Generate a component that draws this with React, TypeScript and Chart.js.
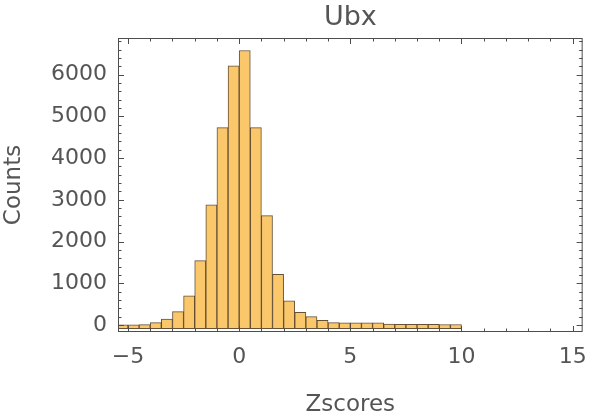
import React, { useEffect, useRef } from "react";
import { Chart, registerables } from "chart.js";

Chart.register(...registerables);

// Histogram bins (left edges) and counts, bin width 0.5
const binStarts = [
  -5.5, -5, -4.5, -4, -3.5, -3, -2.5, -2, -1.5, -1, -0.5, 0, 0.5, 1, 1.5, 2,
  2.5, 3, 3.5, 4, 4.5, 5, 5.5, 6, 6.5, 7, 7.5, 8, 8.5, 9, 9.5,
];
const counts = [
  4, 3, 8, 55, 140, 320, 700, 1540, 2880, 4730, 6210, 6580, 4730, 2620, 1215,
  575, 300, 200, 110, 55, 50, 50, 50, 50, 18, 15, 15, 12, 12, 10, 10,
];
const binWidth = 0.5;

const xTickValues = [-5, 0, 5, 10, 15];
const yTickValues = [0, 1000, 2000, 3000, 4000, 5000, 6000];
const xRange = [-5.45, 15.45];
const yRange = [-170, 6880];

const titleText = "Ubx";
const xTitleText = "Zscores";
const yTitleText = "Counts";

const FONT = "'DejaVu Sans', sans-serif";
const TEXT = "#555555";
const FRAME = "#4d4d4d";

const framePlugin = {
  id: "mmaFrame",
  afterDatasetsDraw(chart: any) {
    const { ctx, chartArea, scales } = chart;
    const { left, right, top, bottom } = chartArea;
    const xs = scales.x;
    const ys = scales.y;
    ctx.save();
    ctx.strokeStyle = FRAME;
    ctx.lineWidth = 1;
    ctx.strokeRect(left + 0.5, top + 0.5, right - left - 1, bottom - top - 1);
    const line = (x1: number, y1: number, x2: number, y2: number) => {
      ctx.beginPath();
      ctx.moveTo(x1, y1);
      ctx.lineTo(x2, y2);
      ctx.stroke();
    };
    // x ticks every 1, major every 5
    for (let v = Math.ceil(xs.min); v <= Math.floor(xs.max); v++) {
      const major = v % 5 === 0;
      const len = major ? 6 : 3.5;
      const px = Math.round(xs.getPixelForValue(v)) + 0.5;
      line(px, bottom, px, bottom - len);
      line(px, top, px, top + len);
    }
    // y ticks every 200, major every 1000
    for (let v = 0; v <= ys.max; v += 200) {
      const major = v % 1000 === 0;
      const len = major ? 6 : 3.5;
      const py = Math.round(ys.getPixelForValue(v)) + 0.5;
      line(left, py, left + len, py);
      line(right, py, right - len, py);
    }
    ctx.restore();
  },
};

export default function App() {
  const canvasRef = useRef<HTMLCanvasElement | null>(null);

  useEffect(() => {
    const canvas = canvasRef.current;
    if (!canvas) return;
    const data = binStarts.map((s, i) => ({ x: s + binWidth / 2, y: counts[i] }));
    const chart = new Chart(canvas, {
      type: "bar",
      data: {
        datasets: [
          {
            data: data as any,
            base: -90,
            backgroundColor: "rgb(250, 199, 106)",
            borderColor: "rgba(85, 62, 32, 0.9)",
            borderWidth: 1,
            borderSkipped: false,
            barPercentage: 1,
            categoryPercentage: 1,
          } as any,
        ],
      },
      options: {
        responsive: false,
        animation: false,
        layout: { padding: { left: 0, right: 9, top: 0, bottom: 0 } },
        plugins: {
          legend: { display: false },
          tooltip: { enabled: false },
          title: {
            display: true,
            text: titleText,
            fullSize: false,
            color: TEXT,
            font: { family: FONT, size: 27, weight: "normal" },
            padding: { top: 2, bottom: 3.6 },
          },
        },
        scales: {
          x: {
            type: "linear",
            min: xRange[0],
            max: xRange[1],
            offset: false,
            grid: { display: false, drawTicks: false },
            border: { display: false },
            afterBuildTicks: (s: any) => {
              s.ticks = xTickValues.map((v) => ({ value: v }));
            },
            afterFit: (s: any) => {
              s.height = 88;
            },
            ticks: {
              color: TEXT,
              font: { family: FONT, size: 22 },
              padding: 12,
              maxRotation: 0,
              autoSkip: false,
              callback: (v: any) => (Number(v) < 0 ? "\u2212" + Math.abs(Number(v)) : String(v)),
            },
            title: {
              display: true,
              text: xTitleText,
              color: TEXT,
              font: { family: FONT, size: 23 },
              padding: { top: 0, bottom: 1 },
            },
          },
          y: {
            type: "linear",
            min: yRange[0],
            max: yRange[1],
            grid: { display: false, drawTicks: false },
            border: { display: false },
            afterBuildTicks: (s: any) => {
              s.ticks = yTickValues.map((v) => ({ value: v }));
            },
            afterFit: (s: any) => {
              s.width = 118;
            },
            ticks: {
              color: TEXT,
              font: { family: FONT, size: 22 },
              padding: 11,
              autoSkip: false,
              callback: (v: any) => String(v),
            },
            title: {
              display: true,
              text: yTitleText,
              color: TEXT,
              font: { family: FONT, size: 23 },
              padding: { top: 0, bottom: 0 },
            },
          },
        },
      },
      plugins: [framePlugin],
    });
    return () => chart.destroy();
  }, []);

  return (
    <div style={{ position: "fixed", left: 0, top: 0, width: 599, height: 420, background: "#fff" }}>
      <canvas ref={canvasRef} width={599} height={420} style={{ display: "block" }} />
    </div>
  );
}
